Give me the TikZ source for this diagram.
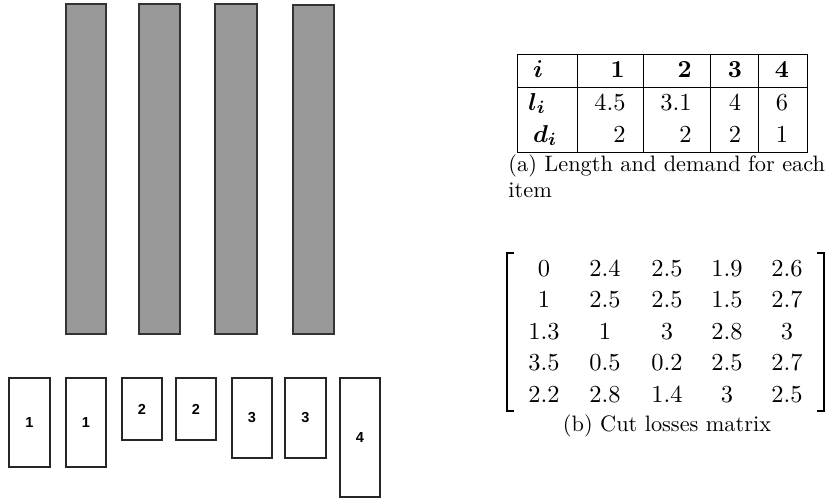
\documentclass[tikz,border=0pt]{standalone}
\usepackage{bm}
\usepackage{fontspec}
\newfontfamily\piecefont{Liberation Sans}

\begin{document}
\begin{tikzpicture}
[x=0.448pt,y=-0.448pt,%
  every node/.style={inner sep=0pt,anchor=base},%
  bar/.style={draw=black!80,fill=black!40,line width=0.6pt},%
  piece/.style={draw=black!85,line width=0.5pt},%
  rule/.style={draw=black,line width=0.4pt},%
  brack/.style={draw=black,line width=0.7pt},%
  entry/.style={font=\fontsize{10.95}{13}\selectfont},%
  plabel/.style={font=\piecefont\bfseries\fontsize{6.5}{7}\selectfont,anchor=center}]
\useasboundingbox (0,0) rectangle (827,498);
% stock bars
\draw[bar] (66,4) rectangle (106,334);
\draw[bar] (139,4) rectangle (180,334);
\draw[bar] (215,4) rectangle (257,334);
\draw[bar] (293,5) rectangle (334,334);
% items to cut
\draw[piece] (9,378) rectangle (50,467);
\draw[piece] (66,378) rectangle (106,467);
\draw[piece] (122,378) rectangle (162,440);
\draw[piece] (176,378) rectangle (216,440);
\draw[piece] (232,378) rectangle (272,458);
\draw[piece] (285,378) rectangle (326,458);
\draw[piece] (340,378) rectangle (380,497);
\node[plabel] (p1a) at (29.5,422.5) {1};
\node[plabel] (p1b) at (86,422.5) {1};
\node[plabel] (p2a) at (142,409) {2};
\node[plabel] (p2b) at (196,409) {2};
\node[plabel] (p3a) at (252,418) {3};
\node[plabel] (p3b) at (305.5,418) {3};
\node[plabel] (p4) at (360,437.5) {4};
% table (a)
\draw[rule] (517,54) rectangle (807,152);
\draw[rule] (517,87) -- (807,87);
\draw[rule] (577,54) -- (577,152);
\draw[rule] (643,54) -- (643,152);
\draw[rule] (710,54) -- (710,152);
\draw[rule] (758,54) -- (758,152);
\node[entry] (hi) at (538,77) {$\bm{i}$};
\node[entry,anchor=base east] (h1) at (625,77) {$\bm{1}$};
\node[entry,anchor=base east] (h2) at (692,77) {$\bm{2}$};
\node[entry] (h3) at (735,77) {$\bm{3}$};
\node[entry] (h4) at (782,77) {$\bm{4}$};
\node[entry] (li) at (537,110) {$\bm{l_i}$};
\node[entry,anchor=base east] (l1) at (626,110) {4.5};
\node[entry,anchor=base east] (l2) at (692,110) {3.1};
\node[entry] (l3) at (735,110) {4};
\node[entry] (l4) at (782,110) {6};
\node[entry] (di) at (545,142) {$\bm{d_i}$};
\node[entry,anchor=base east] (d1) at (626,142) {2};
\node[entry,anchor=base east] (d2) at (692,142) {2};
\node[entry] (d3) at (735,142) {2};
\node[entry] (d4) at (782,142) {1};
\node[anchor=base west] (capa) at (508,171) {(a) Length and demand for each};
\node[anchor=base west] (capa2) at (508,197) {item};
% matrix (b)
\draw[brack] (514,253) -- (507,253) -- (507,411) -- (514,411);
\draw[brack] (817,253) -- (824,253) -- (824,411) -- (817,411);
\node[entry] (m11) at (544,276) {0};
\node[entry] (m12) at (605,276) {2.4};
\node[entry] (m13) at (667,276) {2.5};
\node[entry] (m14) at (727,276) {1.9};
\node[entry] (m15) at (787,276) {2.6};
\node[entry] (m21) at (544,307.5) {1};
\node[entry] (m22) at (605,307.5) {2.5};
\node[entry] (m23) at (667,307.5) {2.5};
\node[entry] (m24) at (727,307.5) {1.5};
\node[entry] (m25) at (787,307.5) {2.7};
\node[entry] (m31) at (544,339) {1.3};
\node[entry] (m32) at (605,339) {1};
\node[entry] (m33) at (667,339) {3};
\node[entry] (m34) at (727,339) {2.8};
\node[entry] (m35) at (787,339) {3};
\node[entry] (m41) at (544,370.5) {3.5};
\node[entry] (m42) at (605,370.5) {0.5};
\node[entry] (m43) at (667,370.5) {0.2};
\node[entry] (m44) at (727,370.5) {2.5};
\node[entry] (m45) at (787,370.5) {2.7};
\node[entry] (m51) at (544,402) {2.2};
\node[entry] (m52) at (605,402) {2.8};
\node[entry] (m53) at (667,402) {1.4};
\node[entry] (m54) at (727,402) {3};
\node[entry] (m55) at (787,402) {2.5};
\node (capb) at (667,431) {(b) Cut losses matrix};
\end{tikzpicture}
\end{document}
